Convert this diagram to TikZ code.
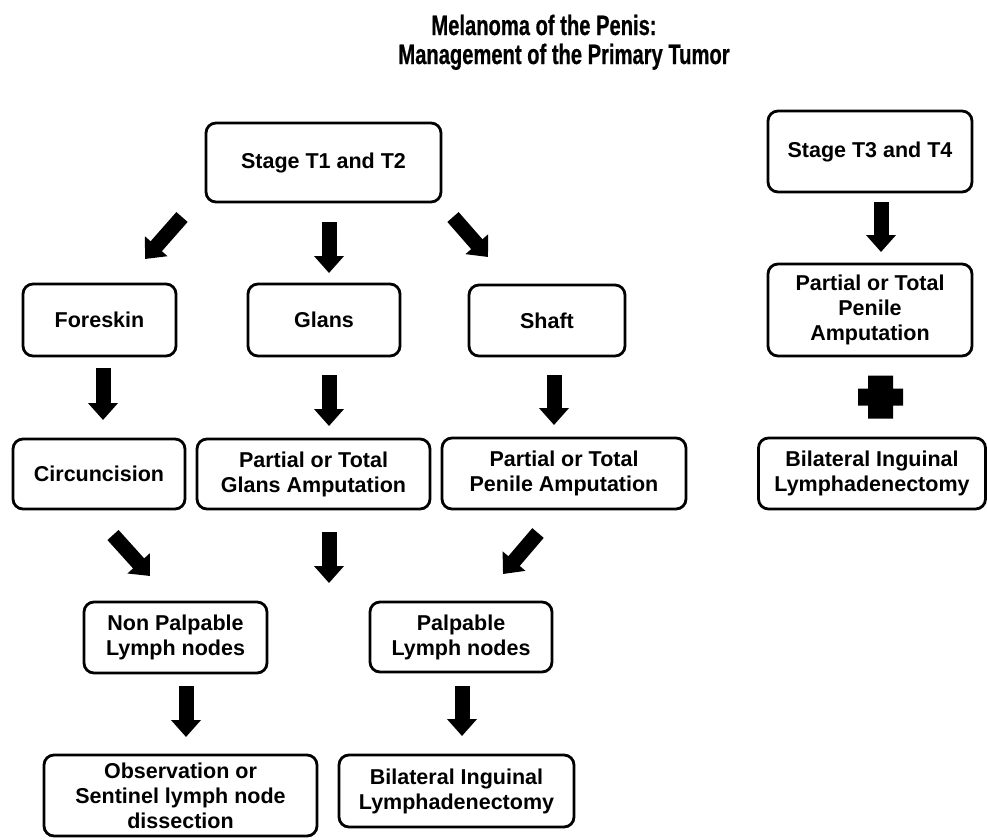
\documentclass[tikz,border=0pt]{standalone}
\usepackage{fontspec}
\setmainfont{Liberation Sans}
\newfontfamily\titlefont[FakeStretch=0.72,FakeBold=0.6]{Liberation Sans}
\usetikzlibrary{arrows.meta,calc}
\begin{document}
\begin{tikzpicture}[x=1pt,y=-1pt,
  box/.style={draw,line width=2.8pt,rounded corners=10pt,align=center,inner sep=0pt,
    font=\bfseries\fontsize{21.5}{25}\selectfont},
  blockarrow/.style={line width=15pt,-{Triangle[width=29pt,length=17pt]}},
  ttl/.style={anchor=base,font=\titlefont\bfseries\fontsize{28}{30}\selectfont}]
\useasboundingbox (0,0) rectangle (987,839);
% title
\node[ttl] (title1) at (544,35) {Melanoma of the Penis:};
\node[ttl] (title2) at (564,64) {Management of the Primary Tumor};
% boxes
\node[box,minimum width=235pt,minimum height=79pt] (t12) at (323.5,162.5) {Stage T1 and T2};
\node[box,minimum width=153pt,minimum height=72pt] (fore) at (99.5,320) {Foreskin};
\node[box,minimum width=152pt,minimum height=72pt] (glans) at (324,320) {Glans};
\node[box,minimum width=156pt,minimum height=71pt] (shaft) at (547,320.5) {Shaft};
\node[box,minimum width=204pt,minimum height=81pt] (t34) at (870,151.5) {Stage T3 and T4};
\node[box,minimum width=204pt,minimum height=92pt] (pamR) at (870,310) {Partial or Total\\Penile\\Amputation};
\node[box,minimum width=227pt,minimum height=71pt] (bilR) at (872,473.5) {Bilateral Inguinal\\Lymphadenectomy};
\node[box,minimum width=172pt,minimum height=70pt] (circ) at (99,474) {Circuncision};
\node[box,minimum width=233pt,minimum height=70pt] (gamp) at (313.5,474) {Partial or Total\\Glans Amputation};
\node[box,minimum width=244pt,minimum height=71pt] (pamM) at (564,473.5) {Partial or Total\\Penile Amputation};
\node[box,minimum width=183pt,minimum height=71pt] (nonp) at (175.5,637.5) {Non Palpable\\Lymph nodes};
\node[box,minimum width=182pt,minimum height=70pt] (palp) at (461,637) {Palpable\\Lymph nodes};
\node[box,minimum width=273pt,minimum height=81pt] (obs) at (180.5,795.5) {Observation or\\Sentinel lymph node\\dissection};
\node[box,minimum width=235pt,minimum height=72pt] (bilM) at (456.5,791) {Bilateral Inguinal\\Lymphadenectomy};
% arrow end points
\coordinate (a1s) at (182,217); \coordinate (a1e) at (145,259);
\coordinate (a2s) at (329,222); \coordinate (a2e) at (329,273);
\coordinate (a3s) at (453,217); \coordinate (a3e) at (488,257);
\coordinate (a4s) at (103,368); \coordinate (a4e) at (103,420);
\coordinate (a5s) at (329,375); \coordinate (a5e) at (329,426);
\coordinate (a6s) at (554,375); \coordinate (a6e) at (554,425);
\coordinate (a7s) at (881,202); \coordinate (a7e) at (881,252);
\coordinate (a8s) at (113,535); \coordinate (a8e) at (150,576);
\coordinate (a9s) at (329,532); \coordinate (a9e) at (329,583);
\coordinate (a10s) at (538,533); \coordinate (a10e) at (503,574);
\coordinate (a11s) at (186,686); \coordinate (a11e) at (186,737);
\coordinate (a12s) at (462,686); \coordinate (a12e) at (462,736);
\foreach \i in {1,...,12}{\draw[blockarrow] (a\i s) -- (a\i e);}
% plus sign
\coordinate (plus) at (880.5,397);
\fill ($(plus)+(-12.5,-21.5)$) -- ++(25,0) -- ++(0,13) -- ++(10,0) -- ++(0,17) -- ++(-10,0) -- ++(0,13) -- ++(-25,0) -- ++(0,-13) -- ++(-10,0) -- ++(0,-17) -- ++(10,0) -- cycle;
\end{tikzpicture}
\end{document}
